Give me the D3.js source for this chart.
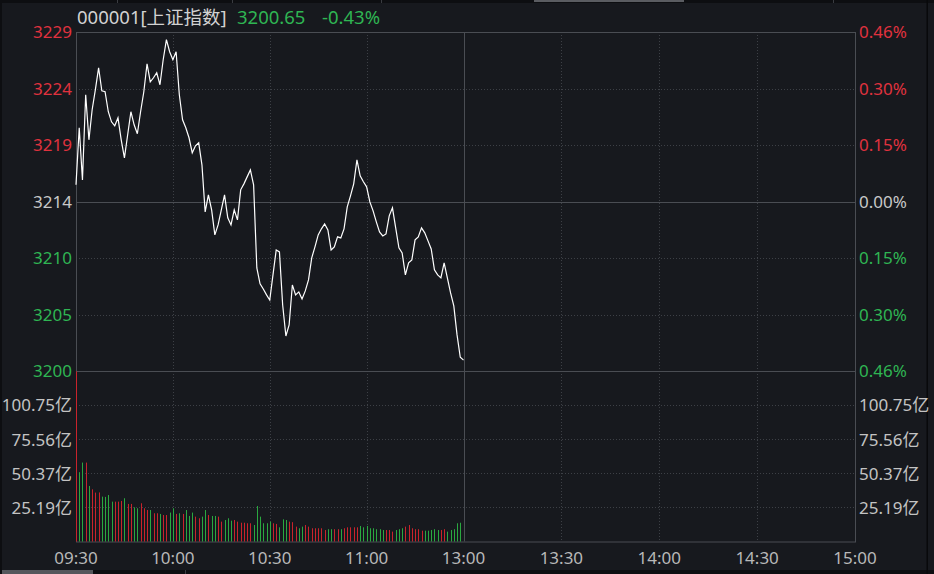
<!DOCTYPE html>
<html>
<head>
<meta charset="utf-8">
<script src="https://cdn.jsdelivr.net/npm/d3@7"></script>
<style>
  html, body { margin: 0; padding: 0; background: #17191e; }
  svg { display: block; }
  text { font-family: "Noto Sans", "Noto Sans CJK SC", sans-serif; }
</style>
</head>
<body>
<svg id="chart" width="934" height="574"></svg>
<script>
// ---------- data ----------
const stockName = "000001[上证指数]";
const lastPrice = "3200.65";
const lastChange = "-0.43%";
const preClose = 3214.47;

// minute index (0 = 09:30) for time ticks, and labels
const timeTicks = [0, 30, 60, 90, 120, 150, 180, 210, 240];
const timeLabels = ["09:30", "10:00", "10:30", "11:00", "13:00", "13:30", "14:00", "14:30", "15:00"];

// price axis
const priceTicks = [3229.26, 3224.33, 3219.40, 3214.47, 3209.54, 3204.61, 3199.68];
const priceLabels = ["3229", "3224", "3219", "3214", "3210", "3205", "3200"];
const pctLabels = ["0.46%", "0.30%", "0.15%", "0.00%", "0.15%", "0.30%", "0.46%"];

// volume axis (亿)
const volMax = 125.94;
const volTicks = [100.75, 75.56, 50.37, 25.19];
const volLabels = ["100.75亿", "75.56亿", "50.37亿", "25.19亿"];

// minute prices 09:30 .. 11:30
const prices = [
  3215.94, 3220.91, 3216.37, 3223.79, 3219.86, 3222.48, 3224.23, 3226.14, 3224.14, 3224.05,
  3222.31, 3221.43, 3221.08, 3221.78, 3219.86, 3218.29, 3220.30, 3222.31, 3221.17, 3220.39,
  3222.31, 3224.05, 3226.49, 3224.92, 3225.27, 3225.71, 3224.66, 3226.84, 3228.59, 3227.54,
  3226.84, 3227.54, 3223.79, 3221.61, 3220.91, 3220.04, 3218.73, 3219.34, 3219.60, 3217.68,
  3213.58, 3215.06, 3213.75, 3211.57, 3212.44, 3213.75, 3215.06, 3213.06, 3212.44, 3213.75,
  3212.88, 3215.50, 3216.02, 3216.63, 3217.24, 3215.94, 3208.69, 3207.30, 3206.86, 3206.34,
  3205.90, 3208.08, 3210.26, 3210.09, 3205.46, 3202.76, 3203.72, 3207.21, 3206.34, 3206.60,
  3205.99, 3206.69, 3207.65, 3209.57, 3210.53, 3211.57, 3212.10, 3212.53, 3212.01, 3210.26,
  3210.53, 3211.40, 3211.31, 3212.10, 3214.02, 3214.98, 3216.02, 3218.12, 3216.72, 3216.20,
  3215.76, 3214.45, 3213.67, 3212.71, 3211.83, 3211.48, 3211.66, 3213.23, 3213.93, 3212.18,
  3210.44, 3210.00, 3208.08, 3209.13, 3209.39, 3211.14, 3211.40, 3212.18, 3211.75, 3211.05,
  3210.35, 3208.52, 3208.08, 3207.82, 3209.13, 3207.82, 3206.51, 3205.38, 3202.85, 3200.90,
  3200.65
];

// minute volumes (亿)
const volumes = [
  125.9, 51.3, 58.4, 58.4, 41.1, 38.6, 36.2, 36.3, 33.2, 33.0,
  34.4, 29.5, 29.5, 29.5, 30.0, 32.0, 27.8, 27.8, 25.3, 24.6,
  28.3, 24.6, 23.3, 23.3, 20.9, 20.9, 20.4, 19.6, 19.6, 21.4,
  24.6, 20.4, 20.9, 20.4, 23.3, 18.9, 21.4, 18.4, 17.2, 18.4,
  23.3, 19.6, 18.9, 18.9, 18.4, 14.7, 15.9, 17.2, 15.4, 15.9,
  14.7, 13.9, 13.9, 13.5, 13.5, 12.2, 26.3, 18.4, 13.5, 13.5,
  14.7, 13.5, 13.0, 10.5, 16.4, 15.9, 14.7, 14.3, 11.0, 9.8,
  11.0, 12.2, 11.0, 9.8, 9.8, 9.8, 9.8, 8.5, 9.1, 9.1,
  9.1, 9.1, 9.1, 9.8, 10.5, 10.5, 10.5, 10.5, 11.5, 10.5,
  11.5, 9.8, 9.8, 9.1, 9.1, 8.5, 8.5, 8.5, 7.3, 8.5,
  9.1, 9.8, 11.0, 12.2, 9.8, 9.1, 9.1, 8.0, 8.0, 8.0,
  8.5, 9.1, 8.5, 8.5, 9.1, 7.3, 8.5, 9.1, 13.5, 13.9
];

// bar direction: r = up (red), g = down (green)
const volDir = (
  "rggrgrrrgg" + "ggrrrgrrgg" + "rrrgrrgrrg" + "grgrgggrrg" +
  "grggrrgggr" + "rrrrrggggg" + "grrgggrrrg" + "grrrrrrrgg" +
  "rrgrrrrrgg" + "ggggggrrrg" + "ggrrrrrrgg" + "gggrrggggg"
).split("");

// ---------- layout ----------
const W = 934, H = 574;
const L = 76, R = 855, T = 32, PB = 371.3, VB = 541.5;
const C = {
  bg: "#17191e", grid: "#3d4046", border: "#4a4d53",
  red: "#e0323e", green: "#2fb553", zero: "#c8c8c8", grey: "#c3c3c3",
  barRed: "#c9232c", barGreen: "#2aa840", line: "#ffffff"
};

const svg = d3.select("#chart");
svg.append("rect").attr("width", W).attr("height", H).attr("fill", C.bg);

// window chrome remnants
svg.append("rect").attr("x", 0).attr("y", 0).attr("width", W).attr("height", 3).attr("fill", "#0d0e11");
svg.append("rect").attr("x", 534).attr("y", 0).attr("width", 150).attr("height", 2).attr("fill", "#5a5c61");
[117, 232, 381, 833].forEach(v => svg.append("rect").attr("x", v).attr("y", 0).attr("width", 1).attr("height", 3).attr("fill", "#3a3c41"));
svg.append("rect").attr("x", 0).attr("y", 570).attr("width", W).attr("height", 4).attr("fill", "#0d0e11");
svg.append("rect").attr("x", 0).attr("y", 570).attr("width", 93).attr("height", 4).attr("fill", "#55575c");
svg.append("rect").attr("x", 185).attr("y", 570).attr("width", 1).attr("height", 4).attr("fill", "#3a3c41");
svg.append("rect").attr("x", 0).attr("y", 0).attr("width", 2).attr("height", H).attr("fill", "#0d0e11");
svg.append("rect").attr("x", 926.5).attr("y", 0).attr("width", 1.5).attr("height", H).attr("fill", "#08090b");

// ---------- scales ----------
const x = d3.scaleLinear().domain([0, 120, 240]).range([L, 463.5, R]);
const y = d3.scaleLinear().domain([priceTicks[6], priceTicks[0]]).range([PB, T]);
const yv = d3.scaleLinear().domain([0, volMax]).range([VB, PB]);

// ---------- grid ----------
const g = svg.append("g");
g.selectAll("line.hp").data(priceTicks.slice(1, 6)).join("line")
  .attr("x1", L).attr("x2", R)
  .attr("y1", d => Math.round(y(d)) + 0.5).attr("y2", d => Math.round(y(d)) + 0.5)
  .attr("stroke", (d, i) => i === 2 ? C.border : C.grid)
  .attr("stroke-dasharray", (d, i) => i === 2 ? null : "1,2");
g.selectAll("line.hv").data(volTicks).join("line")
  .attr("x1", L).attr("x2", R)
  .attr("y1", d => Math.round(yv(d)) + 0.5).attr("y2", d => Math.round(yv(d)) + 0.5)
  .attr("stroke", C.grid).attr("stroke-dasharray", "1,2");
g.selectAll("line.vt").data(timeTicks.slice(1, 8)).join("line")
  .attr("x1", d => Math.round(x(d)) + 0.5).attr("x2", d => Math.round(x(d)) + 0.5)
  .attr("y1", T).attr("y2", VB)
  .attr("stroke", d => d === 120 ? C.border : C.grid)
  .attr("stroke-dasharray", d => d === 120 ? null : "1,2");
g.append("rect").attr("x", L + 0.5).attr("y", T + 0.5).attr("width", R - L).attr("height", VB - T)
  .attr("fill", "none").attr("stroke", C.border);
g.append("line").attr("x1", L).attr("x2", R).attr("y1", Math.round(PB) + 0.5).attr("y2", Math.round(PB) + 0.5)
  .attr("stroke", C.border);

// ---------- volume bars ----------
svg.append("g").selectAll("rect").data(volumes).join("rect")
  .attr("x", (d, i) => Math.round(x(i)))
  .attr("width", 1)
  .attr("y", d => yv(d))
  .attr("height", d => VB - yv(d))
  .attr("fill", (d, i) => volDir[i] === "r" ? C.barRed : C.barGreen);

// ---------- price line ----------
svg.append("path").datum(prices)
  .attr("d", d3.line().x((d, i) => x(i)).y(d => y(d)))
  .attr("fill", "none").attr("stroke", C.line).attr("stroke-width", 1.2)
  .attr("stroke-linejoin", "miter");

// ---------- axis labels ----------
const fs = 17;
const colorFor = i => i < 3 ? C.red : (i === 3 ? C.zero : C.green);
svg.append("g").selectAll("text").data(priceTicks).join("text")
  .attr("x", 72).attr("y", d => y(d)).attr("dy", "0.36em")
  .attr("text-anchor", "end").attr("font-size", fs)
  .attr("fill", (d, i) => colorFor(i)).text((d, i) => priceLabels[i]);
svg.append("g").selectAll("text").data(priceTicks).join("text")
  .attr("x", 859).attr("y", d => y(d)).attr("dy", "0.36em")
  .attr("text-anchor", "start").attr("font-size", fs)
  .attr("fill", (d, i) => colorFor(i)).text((d, i) => pctLabels[i]);
svg.append("g").selectAll("text").data(volTicks).join("text")
  .attr("x", 72).attr("y", d => yv(d)).attr("dy", "0.36em")
  .attr("text-anchor", "end").attr("font-size", fs)
  .attr("fill", C.grey).text((d, i) => volLabels[i]);
svg.append("g").selectAll("text").data(volTicks).join("text")
  .attr("x", 859).attr("y", d => yv(d)).attr("dy", "0.36em")
  .attr("text-anchor", "start").attr("font-size", fs)
  .attr("fill", C.grey).text((d, i) => volLabels[i]);
svg.append("g").selectAll("text").data(timeTicks).join("text")
  .attr("x", d => x(d)).attr("y", 558).attr("dy", "0.36em")
  .attr("text-anchor", "middle").attr("font-size", fs)
  .attr("fill", "#b8b8b8").text((d, i) => timeLabels[i]);

// ---------- header ----------
svg.append("text").attr("x", 77).attr("y", 24).attr("font-size", 18.5).attr("fill", "#d2d2d2").text(stockName);
svg.append("text").attr("x", 237).attr("y", 24).attr("font-size", 18.5).attr("fill", C.green).text(lastPrice);
svg.append("text").attr("x", 322).attr("y", 24).attr("font-size", 18.5).attr("fill", C.green).text(lastChange);
</script>
</body>
</html>
